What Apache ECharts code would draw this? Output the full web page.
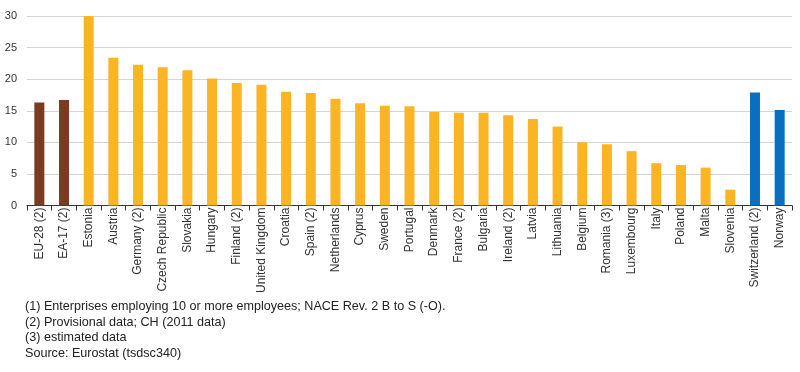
<!DOCTYPE html>
<html><head><meta charset="utf-8">
<script src="https://cdn.jsdelivr.net/npm/echarts@6/dist/echarts.min.js"></script>
<style>html,body{margin:0;padding:0;background:#fff}#c{width:800px;height:372px}</style>
</head><body><div id="c"></div>
<script>
var categories = ["EU-28 (2)","EA-17 (2)","Estonia","Austria","Germany (2)","Czech Republic","Slovakia","Hungary","Finland (2)","United Kingdom","Croatia","Spain (2)","Netherlands","Cyprus","Sweden","Portugal","Denmark","France (2)","Bulgaria","Ireland (2)","Latvia","Lithuania","Belgium","Romania (3)","Luxembourg","Italy","Poland","Malta","Slovenia","Switzerland (2)","Norway"];
var values = [16.3,16.7,30.0,23.4,22.3,21.9,21.4,20.1,19.4,19.1,18.0,17.8,16.9,16.2,15.8,15.7,14.8,14.7,14.7,14.3,13.7,12.5,10.0,9.7,8.6,6.7,6.4,6.0,2.5,17.9,15.1];
var groups = ["agg","agg","eu","eu","eu","eu","eu","eu","eu","eu","eu","eu","eu","eu","eu","eu","eu","eu","eu","eu","eu","eu","eu","eu","eu","eu","eu","eu","eu","efta","efta"];
var yTicks = [0,5,10,15,20,25,30];
var footnotes = ["(1) Enterprises employing 10 or more employees; NACE Rev. 2 B to S (-O).","(2) Provisional data; CH (2011 data)","(3) estimated data","Source: Eurostat (tsdsc340)"];
var colors = {agg:"#7b3b22", eu:"#fbb424", efta:"#0b6fc0"};

var chart = echarts.init(document.getElementById('c'));
chart.setOption({
  animation:false,
  grid:{left:27,right:8,top:16,bottom:166.5,containLabel:false},
  xAxis:{type:'category',data:categories,
    axisLine:{lineStyle:{color:'#333',width:1}},
    axisTick:{show:true,length:5,lineStyle:{color:'#333'}},
    axisLabel:{rotate:90,interval:0,fontSize:12,fontFamily:'Liberation Sans, Arial, sans-serif',color:'#333',margin:2}},
  yAxis:{type:'value',min:yTicks[0],max:yTicks[yTicks.length-1],interval:5,
    axisLine:{show:false},axisTick:{show:false},
    splitLine:{lineStyle:{color:'#d4d4d4',width:1}},
    axisLabel:{fontSize:11,fontFamily:'Liberation Sans, Arial, sans-serif',color:'#333',margin:10}},
  series:[{type:'bar',barWidth:10,
    data:values.map(function(v,i){return {value:v,itemStyle:{color:colors[groups[i]]}};})}],
  graphic:footnotes.map(function(t,i){return {type:'text',x:25,y:307+i*15.5,
    style:{text:t,fontSize:12.6,fontFamily:'Liberation Sans, Arial, sans-serif',fill:'#222',verticalAlign:'middle'}};})
});
</script></body></html>
